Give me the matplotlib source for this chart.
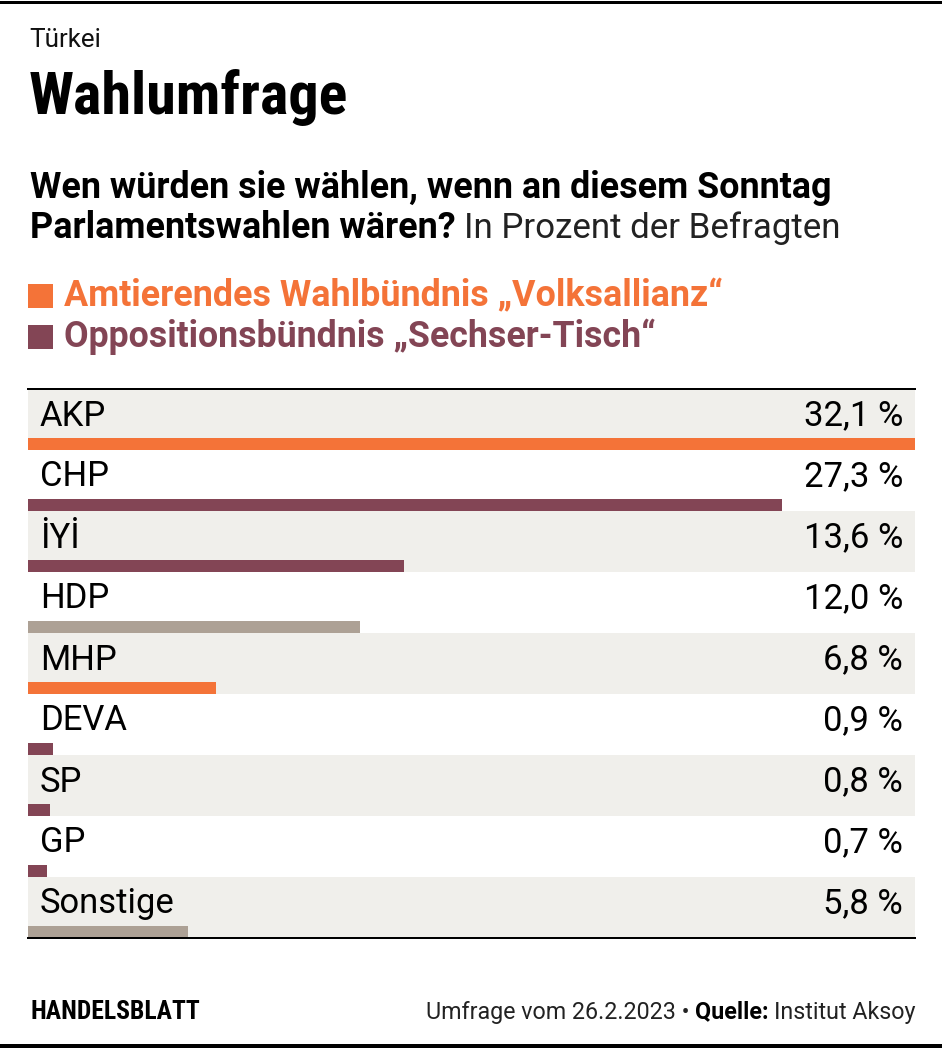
import matplotlib
matplotlib.use("Agg")
import matplotlib.pyplot as plt
import matplotlib.font_manager as fm
from matplotlib.patches import Rectangle

parties = ["AKP", "CHP", "İYİ", "HDP", "MHP", "DEVA", "SP", "GP", "Sonstige"]
values = [32.1, 27.3, 13.6, 12.0, 6.8, 0.9, 0.8, 0.7, 5.8]
groups = ["gov", "opp", "opp", "none", "gov", "opp", "opp", "opp", "none"]
value_labels = ["32,1 %", "27,3 %", "13,6 %", "12,0 %", "6,8 %", "0,9 %", "0,8 %", "0,7 %", "5,8 %"]
legend_labels = ["Amtierendes Wahlbündnis „Volksallianz“", "Oppositionsbündnis „Sechser-Tisch“"]

colors = {"gov": "#F47338", "opp": "#834555", "none": "#ADA195"}
row_bg = "#F0EFEB"

# ---- font selection ----
avail = {}
for f in fm.fontManager.ttflist:
    avail.setdefault(f.name, set()).add(f.weight)

def pick(cands):
    for c in cands:
        w = avail.get(c, set())
        if 400 in w and 700 in w:
            return c
    return "DejaVu Sans"

REG_NAME = pick(["Libre Franklin", "IBM Plex Sans", "Roboto"])
COND_NAME = pick(["Roboto Condensed", "IBM Plex Sans Condensed", "Archivo Narrow"])
REG = [REG_NAME, "DejaVu Sans"]
COND = [COND_NAME, "DejaVu Sans"]

W, H = 942, 1048
fig = plt.figure(figsize=(W / 100, H / 100), dpi=100)
fig.patch.set_facecolor("white")
renderer = fig.canvas.get_renderer()

def fit_text(x, y, s, target_w, ha="left", **kw):
    """Place text with font size chosen so its width matches target_w pixels."""
    t = fig.text(x / W, 1 - y / H, s, fontsize=20, va="center", ha=ha, **kw)
    w = t.get_window_extent(renderer).width
    t.set_fontsize(20 * target_w / w)
    return t

def width_of(t):
    return t.get_window_extent(renderer).width

# border lines
fig.add_artist(plt.Line2D([0, 1], [1 - 1.5 / H] * 2, color="black", lw=3 * 0.72, transform=fig.transFigure))
fig.add_artist(plt.Line2D([0, 1], [1 - 1045.5 / H] * 2, color="black", lw=4 * 0.72, transform=fig.transFigure))

fit_text(29, 40, "Türkei", 72, family=REG, color="#111111")
fit_text(29, 97, "Wahlumfrage", 319, family=COND, weight="bold", color="black")

t_sub1 = fit_text(30, 188, "Wen würden sie wählen, wenn an diesem Sonntag", 798, family=REG, weight="bold", color="black")
sub_size = t_sub1.get_fontsize()
t_b = fig.text(30 / W, 1 - 228 / H, "Parlamentswahlen wären?", fontsize=sub_size, family=REG, weight="bold", va="center", color="black")
bx1 = t_b.get_window_extent(renderer).x1
x_reg = bx1 + 8
fit_text(x_reg, 228, "In Prozent der Befragten", 840 - x_reg, family=REG, color="#222222")

# legend
leg_targets = [658, 591]
for i, (lab, key) in enumerate(zip(legend_labels, ["gov", "opp"])):
    yc = 296 + i * 41
    fig.add_artist(Rectangle((28 / W, 1 - (yc + 12) / H), 25 / W, 24 / H, color=colors[key], transform=fig.transFigure, lw=0))
    fit_text(64, yc, lab, leg_targets[i], family=REG, weight="bold", color=colors[key])

# chart axes
top, bottom, left, right = 389, 938, 28, 915
ax = fig.add_axes([left / W, 1 - bottom / H, (right - left) / W, (bottom - top) / H])
xmax = max(values)
ax.set_xlim(0, xmax)
n = len(parties)
ax.set_ylim(n, 0)
ax.axis("off")

row_h = (bottom - top) / n
bar_frac = 12 / row_h
for i in range(n):
    if i % 2 == 0:
        ax.axhspan(i, i + 1, color=row_bg, lw=0, zorder=0)
ax.barh([i + 1 - bar_frac / 2 for i in range(n)], values, height=bar_frac, left=0,
        color=[colors[g] for g in groups], zorder=2, linewidth=0)

# label size fitted to "32,1 %" width 99 px
probe = fig.text(0, 0, value_labels[0], fontsize=20, family=REG)
lab_size = 20 * 99 / width_of(probe)
probe.remove()
pad = 12 / (right - left) * xmax
for i, (p, v) in enumerate(zip(parties, value_labels)):
    yc = i + 27 / row_h
    ax.text(pad, yc, p, fontsize=lab_size, family=REG, va="center", ha="left", color="black")
    ax.text(xmax - pad, yc, v, fontsize=lab_size, family=REG, va="center", ha="right", color="black")

fig.add_artist(plt.Line2D([left / W, right / W], [1 - 388.5 / H] * 2, color="black", lw=2 * 0.72, transform=fig.transFigure))
fig.add_artist(plt.Line2D([left / W, right / W], [1 - 938 / H] * 2, color="black", lw=2 * 0.72, transform=fig.transFigure))

# footer
fit_text(30, 1012, "HANDELSBLATT", 170, family=COND, weight="bold", color="black")
probe = fig.text(0, 0, "Umfrage vom 26.2.2023 • Quelle: Institut Aksoy", fontsize=20, family=REG)
foot_size = 20 * 485 / width_of(probe)
probe.remove()
fy = 1 - 1012 / H
t_src = fig.text(915 / W, fy, "Institut Aksoy", fontsize=foot_size, family=REG, va="center", ha="right", color="#222222")
x0 = t_src.get_window_extent(renderer).x0
t_q = fig.text((x0 - 5) / W, fy, "Quelle:", fontsize=foot_size, family=REG, weight="bold", va="center", ha="right", color="black")
x0 = t_q.get_window_extent(renderer).x0
fig.text((x0 - 5) / W, fy, "Umfrage vom 26.2.2023 •", fontsize=foot_size, family=REG, va="center", ha="right", color="#222222")

fig.savefig("out.png", dpi=100, facecolor="white")
